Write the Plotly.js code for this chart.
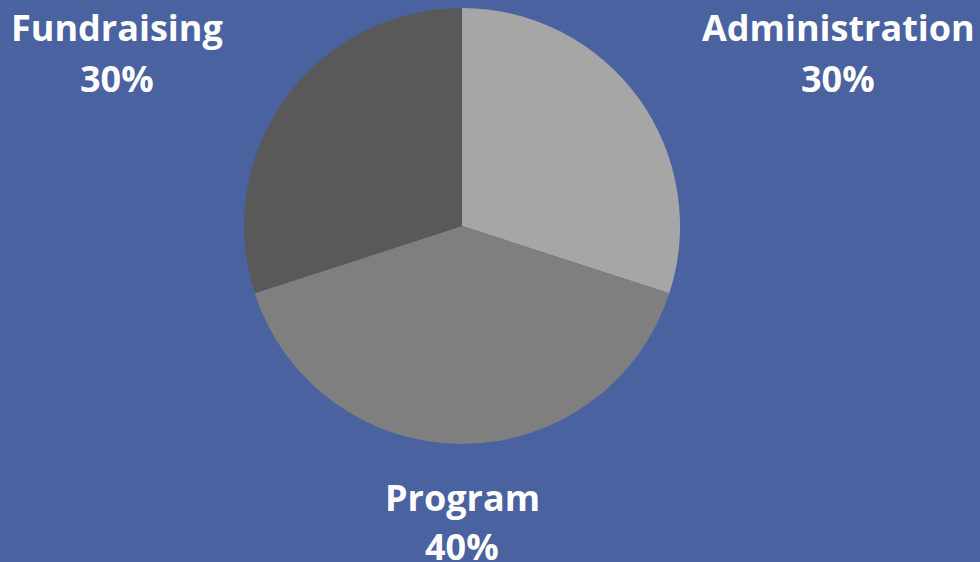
<!DOCTYPE html>
<html>
<head>
<meta charset="utf-8">
<script src="https://cdn.plot.ly/plotly-3.0.1.min.js"></script>
<style>html,body{margin:0;padding:0;background:#4a62a0;}#chart{width:980px;height:562px;}</style>
</head>
<body>
<div id="chart"></div>
<script>
var categories = ["Administration", "Program", "Fundraising"];
var values = [30, 40, 30];
var colors = ["#a6a6a6", "#7f7f7f", "#595959"];

var total = values.reduce(function(a, b){ return a + b; }, 0);
var labelPos = [
  {x: 838 / 980, y1: 28, y2: 78},
  {x: 462 / 980, y1: 497, y2: 546},
  {x: 117 / 980, y1: 28, y2: 78}
];
var annotations = [];
categories.forEach(function(c, i){
  var p = labelPos[i];
  var f = {family: "Open Sans", size: 36, color: "#ffffff", weight: 700};
  annotations.push({xref: "paper", yref: "paper", x: p.x, y: 1 - p.y1 / 562, text: "<b>" + c + "</b>", showarrow: false, xanchor: "center", yanchor: "middle", font: f});
  annotations.push({xref: "paper", yref: "paper", x: p.x, y: 1 - p.y2 / 562, text: "<b>" + Math.round(values[i] / total * 100) + "%</b>", showarrow: false, xanchor: "center", yanchor: "middle", font: f});
});

var data = [{
  type: "pie",
  labels: categories,
  values: values,
  sort: false,
  direction: "clockwise",
  rotation: 0,
  marker: {colors: colors, line: {width: 0}},
  textinfo: "none",
  hoverinfo: "none",
  showlegend: false,
  domain: {x: [244 / 980, 680 / 980], y: [1 - 444 / 562, 1 - 8 / 562]}
}];

var layout = {
  width: 980, height: 562,
  margin: {l: 0, r: 0, t: 0, b: 0},
  paper_bgcolor: "#4a62a0",
  plot_bgcolor: "#4a62a0",
  showlegend: false,
  annotations: annotations
};

Plotly.newPlot("chart", data, layout, {staticPlot: true, displayModeBar: false});
</script>
</body>
</html>
